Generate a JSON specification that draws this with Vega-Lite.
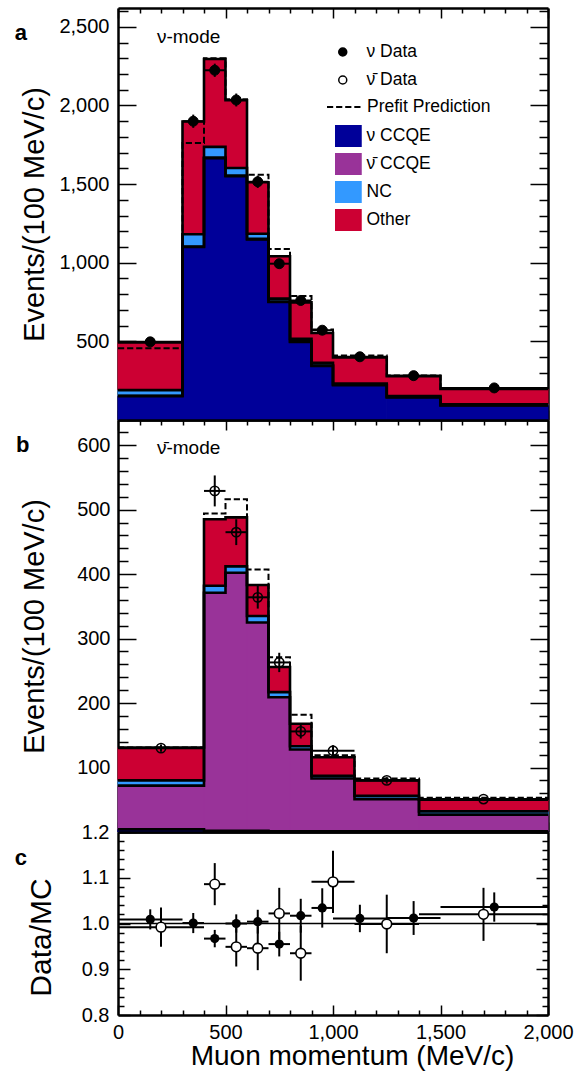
{
  "$schema": "https://vega.github.io/schema/vega-lite/v6.json",
  "padding": {"left": 14, "top": 1, "right": 4, "bottom": 4},
  "spacing": 0,
  "bounds": "flush",
  "config": {
    "font": "Liberation Sans",
    "view": {"stroke": null},
    "axis": {
      "labelFont": "Liberation Sans", "labelFontSize": 20, "labelColor": "black",
      "titleFont": "Liberation Sans", "titleFontWeight": "normal", "titleColor": "black",
      "tickColor": "black", "tickWidth": 1.5, "domainColor": "black", "domainWidth": 2.5,
      "grid": false, "labelFlush": false, "labelOverlap": false, "labelBound": false, "zindex": 1
    },
    "legend": {"labelFont": "Liberation Sans", "labelFontSize": 17.5, "labelColor": "black", "padding": 0, "rowPadding": 0, "clipHeight": 28}
  },
  "resolve": {"scale": {"color": "independent", "fill": "independent", "stroke": "independent", "strokeDash": "independent"}},
  "datasets": {
    "mc": [
      {"mode": "nu", "lo": 0, "hi": 300, "comp": "\u03bd CCQE", "n": 152},
      {"mode": "nu", "lo": 0, "hi": 300, "comp": "\u03bd\u0304 CCQE", "n": 2},
      {"mode": "nu", "lo": 0, "hi": 300, "comp": "NC", "n": 36},
      {"mode": "nu", "lo": 0, "hi": 300, "comp": "Other", "n": 303},
      {"mode": "nu", "lo": 300, "hi": 400, "comp": "\u03bd CCQE", "n": 1100},
      {"mode": "nu", "lo": 300, "hi": 400, "comp": "\u03bd\u0304 CCQE", "n": 3},
      {"mode": "nu", "lo": 300, "hi": 400, "comp": "NC", "n": 78},
      {"mode": "nu", "lo": 300, "hi": 400, "comp": "Other", "n": 717},
      {"mode": "nu", "lo": 400, "hi": 500, "comp": "\u03bd CCQE", "n": 1665},
      {"mode": "nu", "lo": 400, "hi": 500, "comp": "\u03bd\u0304 CCQE", "n": 4},
      {"mode": "nu", "lo": 400, "hi": 500, "comp": "NC", "n": 68},
      {"mode": "nu", "lo": 400, "hi": 500, "comp": "Other", "n": 559},
      {"mode": "nu", "lo": 500, "hi": 600, "comp": "\u03bd CCQE", "n": 1550},
      {"mode": "nu", "lo": 500, "hi": 600, "comp": "\u03bd\u0304 CCQE", "n": 4},
      {"mode": "nu", "lo": 500, "hi": 600, "comp": "NC", "n": 49},
      {"mode": "nu", "lo": 500, "hi": 600, "comp": "Other", "n": 430},
      {"mode": "nu", "lo": 600, "hi": 700, "comp": "\u03bd CCQE", "n": 1148},
      {"mode": "nu", "lo": 600, "hi": 700, "comp": "\u03bd\u0304 CCQE", "n": 4},
      {"mode": "nu", "lo": 600, "hi": 700, "comp": "NC", "n": 32},
      {"mode": "nu", "lo": 600, "hi": 700, "comp": "Other", "n": 328},
      {"mode": "nu", "lo": 700, "hi": 800, "comp": "\u03bd CCQE", "n": 750},
      {"mode": "nu", "lo": 700, "hi": 800, "comp": "\u03bd\u0304 CCQE", "n": 3},
      {"mode": "nu", "lo": 700, "hi": 800, "comp": "NC", "n": 19},
      {"mode": "nu", "lo": 700, "hi": 800, "comp": "Other", "n": 269},
      {"mode": "nu", "lo": 800, "hi": 900, "comp": "\u03bd CCQE", "n": 497},
      {"mode": "nu", "lo": 800, "hi": 900, "comp": "\u03bd\u0304 CCQE", "n": 3},
      {"mode": "nu", "lo": 800, "hi": 900, "comp": "NC", "n": 16},
      {"mode": "nu", "lo": 800, "hi": 900, "comp": "Other", "n": 232},
      {"mode": "nu", "lo": 900, "hi": 1000, "comp": "\u03bd CCQE", "n": 344},
      {"mode": "nu", "lo": 900, "hi": 1000, "comp": "\u03bd\u0304 CCQE", "n": 3},
      {"mode": "nu", "lo": 900, "hi": 1000, "comp": "NC", "n": 16},
      {"mode": "nu", "lo": 900, "hi": 1000, "comp": "Other", "n": 190},
      {"mode": "nu", "lo": 1000, "hi": 1250, "comp": "\u03bd CCQE", "n": 222},
      {"mode": "nu", "lo": 1000, "hi": 1250, "comp": "\u03bd\u0304 CCQE", "n": 2},
      {"mode": "nu", "lo": 1000, "hi": 1250, "comp": "NC", "n": 8},
      {"mode": "nu", "lo": 1000, "hi": 1250, "comp": "Other", "n": 166},
      {"mode": "nu", "lo": 1250, "hi": 1500, "comp": "\u03bd CCQE", "n": 144},
      {"mode": "nu", "lo": 1250, "hi": 1500, "comp": "\u03bd\u0304 CCQE", "n": 2},
      {"mode": "nu", "lo": 1250, "hi": 1500, "comp": "NC", "n": 7},
      {"mode": "nu", "lo": 1250, "hi": 1500, "comp": "Other", "n": 126},
      {"mode": "nu", "lo": 1500, "hi": 2000, "comp": "\u03bd CCQE", "n": 93},
      {"mode": "nu", "lo": 1500, "hi": 2000, "comp": "\u03bd\u0304 CCQE", "n": 1},
      {"mode": "nu", "lo": 1500, "hi": 2000, "comp": "NC", "n": 6},
      {"mode": "nu", "lo": 1500, "hi": 2000, "comp": "Other", "n": 97},
      {"mode": "nubar", "lo": 0, "hi": 400, "comp": "\u03bd CCQE", "n": 4},
      {"mode": "nubar", "lo": 0, "hi": 400, "comp": "\u03bd\u0304 CCQE", "n": 68},
      {"mode": "nubar", "lo": 0, "hi": 400, "comp": "NC", "n": 8},
      {"mode": "nubar", "lo": 0, "hi": 400, "comp": "Other", "n": 51},
      {"mode": "nubar", "lo": 400, "hi": 500, "comp": "\u03bd CCQE", "n": 2},
      {"mode": "nubar", "lo": 400, "hi": 500, "comp": "\u03bd\u0304 CCQE", "n": 369},
      {"mode": "nubar", "lo": 400, "hi": 500, "comp": "NC", "n": 11},
      {"mode": "nubar", "lo": 400, "hi": 500, "comp": "Other", "n": 103},
      {"mode": "nubar", "lo": 500, "hi": 600, "comp": "\u03bd CCQE", "n": 2},
      {"mode": "nubar", "lo": 500, "hi": 600, "comp": "\u03bd\u0304 CCQE", "n": 400},
      {"mode": "nubar", "lo": 500, "hi": 600, "comp": "NC", "n": 10},
      {"mode": "nubar", "lo": 500, "hi": 600, "comp": "Other", "n": 76},
      {"mode": "nubar", "lo": 600, "hi": 700, "comp": "\u03bd CCQE", "n": 2},
      {"mode": "nubar", "lo": 600, "hi": 700, "comp": "\u03bd\u0304 CCQE", "n": 323},
      {"mode": "nubar", "lo": 600, "hi": 700, "comp": "NC", "n": 10},
      {"mode": "nubar", "lo": 600, "hi": 700, "comp": "Other", "n": 48},
      {"mode": "nubar", "lo": 700, "hi": 800, "comp": "\u03bd CCQE", "n": 1},
      {"mode": "nubar", "lo": 700, "hi": 800, "comp": "\u03bd\u0304 CCQE", "n": 208},
      {"mode": "nubar", "lo": 700, "hi": 800, "comp": "NC", "n": 8},
      {"mode": "nubar", "lo": 700, "hi": 800, "comp": "Other", "n": 39},
      {"mode": "nubar", "lo": 800, "hi": 900, "comp": "\u03bd CCQE", "n": 1},
      {"mode": "nubar", "lo": 800, "hi": 900, "comp": "\u03bd\u0304 CCQE", "n": 127},
      {"mode": "nubar", "lo": 800, "hi": 900, "comp": "NC", "n": 5},
      {"mode": "nubar", "lo": 800, "hi": 900, "comp": "Other", "n": 35},
      {"mode": "nubar", "lo": 900, "hi": 1100, "comp": "\u03bd CCQE", "n": 1},
      {"mode": "nubar", "lo": 900, "hi": 1100, "comp": "\u03bd\u0304 CCQE", "n": 82},
      {"mode": "nubar", "lo": 900, "hi": 1100, "comp": "NC", "n": 4},
      {"mode": "nubar", "lo": 900, "hi": 1100, "comp": "Other", "n": 29},
      {"mode": "nubar", "lo": 1100, "hi": 1400, "comp": "\u03bd CCQE", "n": 1},
      {"mode": "nubar", "lo": 1100, "hi": 1400, "comp": "\u03bd\u0304 CCQE", "n": 50},
      {"mode": "nubar", "lo": 1100, "hi": 1400, "comp": "NC", "n": 5},
      {"mode": "nubar", "lo": 1100, "hi": 1400, "comp": "Other", "n": 24},
      {"mode": "nubar", "lo": 1400, "hi": 2000, "comp": "\u03bd CCQE", "n": 1},
      {"mode": "nubar", "lo": 1400, "hi": 2000, "comp": "\u03bd\u0304 CCQE", "n": 26},
      {"mode": "nubar", "lo": 1400, "hi": 2000, "comp": "NC", "n": 5},
      {"mode": "nubar", "lo": 1400, "hi": 2000, "comp": "Other", "n": 18}
    ],
    "meas": [
      {"mode": "nu", "lo": 0, "hi": 300, "p": 150, "data": 497, "err": 11, "prefit": 457, "ratio": 1.009, "rerr": 0.022},
      {"mode": "nu", "lo": 300, "hi": 400, "p": 350, "data": 1900, "err": 42, "prefit": 1762, "ratio": 1.001, "rerr": 0.022},
      {"mode": "nu", "lo": 400, "hi": 500, "p": 450, "data": 2224, "err": 42, "prefit": 2300, "ratio": 0.967, "rerr": 0.019},
      {"mode": "nu", "lo": 500, "hi": 600, "p": 550, "data": 2035, "err": 41, "prefit": 2040, "ratio": 1.0, "rerr": 0.02},
      {"mode": "nu", "lo": 600, "hi": 700, "p": 650, "data": 1515, "err": 39, "prefit": 1559, "ratio": 1.004, "rerr": 0.026},
      {"mode": "nu", "lo": 700, "hi": 800, "p": 750, "data": 994, "err": 27, "prefit": 1088, "ratio": 0.955, "rerr": 0.027},
      {"mode": "nu", "lo": 800, "hi": 900, "p": 850, "data": 760, "err": 28, "prefit": 788, "ratio": 1.017, "rerr": 0.037},
      {"mode": "nu", "lo": 900, "hi": 1000, "p": 950, "data": 571, "err": 25, "prefit": 575, "ratio": 1.034, "rerr": 0.043},
      {"mode": "nu", "lo": 1000, "hi": 1250, "p": 1125, "data": 402, "err": 12, "prefit": 410, "ratio": 1.011, "rerr": 0.03},
      {"mode": "nu", "lo": 1250, "hi": 1500, "p": 1375, "data": 282, "err": 10, "prefit": 283, "ratio": 1.012, "rerr": 0.037},
      {"mode": "nu", "lo": 1500, "hi": 2000, "p": 1750, "data": 204, "err": 7, "prefit": 201, "ratio": 1.036, "rerr": 0.032},
      {"mode": "nubar", "lo": 0, "hi": 400, "p": 200, "data": 130, "err": 5.6, "prefit": 131, "ratio": 0.992, "rerr": 0.043},
      {"mode": "nubar", "lo": 400, "hi": 500, "p": 450, "data": 529, "err": 24, "prefit": 494, "ratio": 1.086, "rerr": 0.046},
      {"mode": "nubar", "lo": 500, "hi": 600, "p": 550, "data": 465, "err": 20, "prefit": 516, "ratio": 0.949, "rerr": 0.043},
      {"mode": "nubar", "lo": 600, "hi": 700, "p": 650, "data": 364, "err": 17.5, "prefit": 407, "ratio": 0.946, "rerr": 0.048},
      {"mode": "nubar", "lo": 700, "hi": 800, "p": 750, "data": 263, "err": 15, "prefit": 271, "ratio": 1.022, "rerr": 0.056},
      {"mode": "nubar", "lo": 800, "hi": 900, "p": 850, "data": 156, "err": 11, "prefit": 182, "ratio": 0.935, "rerr": 0.06},
      {"mode": "nubar", "lo": 900, "hi": 1100, "p": 1000, "data": 126, "err": 8.5, "prefit": 119, "ratio": 1.091, "rerr": 0.068},
      {"mode": "nubar", "lo": 1100, "hi": 1400, "p": 1250, "data": 80, "err": 5, "prefit": 83, "ratio": 0.999, "rerr": 0.064},
      {"mode": "nubar", "lo": 1400, "hi": 2000, "p": 1700, "data": 51, "err": 3, "prefit": 53, "ratio": 1.02, "rerr": 0.058}
    ]
  },
  "vconcat": [
    {
      "width": 430,
      "height": 412,
      "resolve": {"axis": {"x": "independent", "y": "independent"}},
      "layer": [
        {
          "data": {"name": "mc"},
          "transform": [
            {"filter": "datum.mode === 'nu'"},
            {"calculate": "indexof(['\u03bd CCQE', '\u03bd\u0304 CCQE', 'NC', 'Other'], datum.comp)", "as": "k"},
            {"stack": "n", "groupby": ["lo"], "sort": [{"field": "k", "order": "ascending"}], "as": ["n0", "n1"]}
          ],
          "mark": {"type": "rect", "strokeWidth": 1},
          "encoding": {
            "x": {"field": "lo", "type": "quantitative", "scale": {"domain": [0, 2000], "nice": false, "zero": false},
              "axis": {"orient": "bottom", "values": [0,100,200,300,400,500,600,700,800,900,1000,1100,1200,1300,1400,1500,1600,1700,1800,1900,2000], "labels": false, "title": null,
                "tickSize": {"condition": {"test": "datum.value % 500 === 0", "value": -10}, "value": -5}}},
            "x2": {"field": "hi"},
            "y": {"field": "n0", "type": "quantitative", "scale": {"domain": [0, 2620], "nice": false},
              "axis": {"orient": "left", "values": [0,100,200,300,400,500,600,700,800,900,1000,1100,1200,1300,1400,1500,1600,1700,1800,1900,2000,2100,2200,2300,2400,2500,2600],
                "labelExpr": "datum.value % 500 === 0 && datum.value > 0 ? format(datum.value, ',') : ''",
                "labelPadding": 27,
                "tickSize": {"condition": {"test": "datum.value % 500 === 0", "value": -18}, "value": -10},
                "title": "Events/(100 MeV/c)", "titleFontSize": 29, "titleX": -75, "titleBaseline": "alphabetic"}},
            "y2": {"field": "n1"},
            "color": {"field": "comp", "type": "nominal",
              "scale": {"domain": ["\u03bd CCQE", "\u03bd\u0304 CCQE", "NC", "Other"], "range": ["#000099", "#993399", "#3399ff", "#cc0033"]},
              "legend": {"title": null, "orient": "none", "legendX": 217, "legendY": 114,
                "symbolType": "M-3.4,-2H3.4V2H-3.4Z", "symbolSize": 100, "symbolStrokeColor": "black", "symbolStrokeWidth": 2, "symbolOpacity": 1,
                "labelOffset": 14,
                "encode": {"symbols": {"update": {"stroke": {"value": "black"}, "strokeWidth": {"value": 2}}}}}},
            "stroke": {"field": "comp", "type": "nominal",
              "scale": {"domain": ["\u03bd CCQE", "\u03bd\u0304 CCQE", "NC", "Other"], "range": ["#000099", "#993399", "#3399ff", "#cc0033"]},
              "legend": null}
          }
        },
        {
          "data": {"name": "mc"},
          "transform": [
            {"filter": "datum.mode === 'nu'"},
            {"calculate": "indexof(['\u03bd CCQE', '\u03bd\u0304 CCQE', 'NC', 'Other'], datum.comp)", "as": "k"},
            {"stack": "n", "groupby": ["lo"], "sort": [{"field": "k", "order": "ascending"}], "as": ["n0", "n1"]},
            {"fold": ["lo", "hi"], "as": ["side", "edge"]}
          ],
          "mark": {"type": "line", "color": "black", "strokeWidth": 2.6},
          "encoding": {
            "x": {"field": "edge", "type": "quantitative",
              "axis": {"orient": "top", "values": [0,100,200,300,400,500,600,700,800,900,1000,1100,1200,1300,1400,1500,1600,1700,1800,1900,2000], "labels": false, "title": null,
                "tickSize": {"condition": {"test": "datum.value % 500 === 0", "value": -10}, "value": -5}}},
            "y": {"field": "n1", "type": "quantitative",
              "axis": {"orient": "right", "values": [0,100,200,300,400,500,600,700,800,900,1000,1100,1200,1300,1400,1500,1600,1700,1800,1900,2000,2100,2200,2300,2400,2500,2600], "labels": false, "title": null,
                "tickSize": {"condition": {"test": "datum.value % 500 === 0", "value": -18}, "value": -9}}},
            "detail": {"field": "comp"},
            "order": [{"field": "edge", "type": "quantitative"}, {"field": "side", "type": "nominal"}]
          }
        },
        {
          "data": {"name": "meas"},
          "transform": [{"filter": "datum.mode === 'nu'"}, {"fold": ["lo", "hi"], "as": ["side", "edge"]}],
          "mark": {"type": "line", "color": "black", "strokeWidth": 2},
          "encoding": {
            "x": {"field": "edge", "type": "quantitative", "axis": null},
            "y": {"field": "prefit", "type": "quantitative", "axis": null},
            "order": [{"field": "edge", "type": "quantitative"}, {"field": "side", "type": "nominal"}],
            "strokeDash": {"datum": "Prefit Prediction",
              "scale": {"domain": ["Prefit Prediction"], "range": [[6.2, 2.9]]},
              "legend": {"title": null, "orient": "none", "legendX": 208, "legendY": 85,
                "symbolType": "stroke", "symbolSize": 1156, "symbolStrokeColor": "black", "symbolStrokeWidth": 2,
                "labelOffset": 5}}
          }
        },
        {
          "data": {"name": "meas"},
          "transform": [{"filter": "datum.mode === 'nu'"}],
          "mark": {"type": "rule", "color": "black", "strokeWidth": 2},
          "encoding": {
            "x": {"field": "lo", "type": "quantitative", "axis": null},
            "x2": {"field": "hi"},
            "y": {"field": "data", "type": "quantitative", "axis": null}
          }
        },
        {
          "data": {"name": "meas"},
          "transform": [{"filter": "datum.mode === 'nu'"}],
          "mark": {"type": "errorbar", "ticks": false, "thickness": 2, "color": "black"},
          "encoding": {
            "x": {"field": "p", "type": "quantitative", "axis": null},
            "y": {"field": "data", "type": "quantitative", "axis": null},
            "yError": {"field": "err"}
          }
        },
        {
          "data": {"name": "meas"},
          "transform": [{"filter": "datum.mode === 'nu'"}],
          "mark": {"type": "point", "shape": "circle", "filled": true, "opacity": 1, "size": 100, "stroke": "black", "strokeWidth": 1},
          "encoding": {
            "x": {"field": "p", "type": "quantitative", "axis": null},
            "y": {"field": "data", "type": "quantitative", "axis": null},
            "fill": {"datum": "\u03bd Data",
              "scale": {"domain": ["\u03bd Data", "\u03bd\u0304 Data"], "range": ["black", "white"]},
              "legend": {"title": null, "orient": "none", "legendX": 216, "legendY": 30,
                "symbolType": "circle", "symbolSize": 64, "symbolStrokeColor": "black", "symbolStrokeWidth": 1.5, "symbolOpacity": 1,
                "labelOffset": 15,
                "encode": {"symbols": {"update": {"stroke": {"value": "black"}, "strokeWidth": {"value": 1.5}}}}}}
          }
        },
        {
          "data": {"values": [{}]},
          "mark": {"type": "text", "align": "left", "baseline": "alphabetic", "fontSize": 19, "font": "Liberation Sans", "color": "black"},
          "encoding": {
            "x": {"datum": 181, "type": "quantitative", "axis": null},
            "y": {"datum": 2395, "type": "quantitative", "axis": null},
            "text": {"value": "\u03bd-mode"}
          }
        },
        {
          "data": {"values": [{}]},
          "mark": {"type": "text", "align": "left", "baseline": "alphabetic", "fontSize": 22, "fontWeight": "bold", "font": "Liberation Sans", "color": "black", "clip": false},
          "encoding": {
            "x": {"datum": -480, "type": "quantitative", "axis": null},
            "y": {"datum": 2416, "type": "quantitative", "axis": null},
            "text": {"value": "a"}
          }
        }
      ]
    },
    {
      "width": 430,
      "height": 412,
      "resolve": {"axis": {"x": "independent", "y": "independent"}},
      "layer": [
        {
          "data": {"name": "mc"},
          "transform": [
            {"filter": "datum.mode === 'nubar'"},
            {"calculate": "indexof(['\u03bd CCQE', '\u03bd\u0304 CCQE', 'NC', 'Other'], datum.comp)", "as": "k"},
            {"stack": "n", "groupby": ["lo"], "sort": [{"field": "k", "order": "ascending"}], "as": ["n0", "n1"]}
          ],
          "mark": {"type": "rect", "strokeWidth": 1},
          "encoding": {
            "x": {"field": "lo", "type": "quantitative", "scale": {"domain": [0, 2000], "nice": false, "zero": false},
              "axis": {"orient": "bottom", "values": [0,100,200,300,400,500,600,700,800,900,1000,1100,1200,1300,1400,1500,1600,1700,1800,1900,2000], "labels": false, "title": null,
                "tickSize": {"condition": {"test": "datum.value % 500 === 0", "value": -10}, "value": -5}}},
            "x2": {"field": "hi"},
            "y": {"field": "n0", "type": "quantitative", "scale": {"domain": [0, 639], "nice": false},
              "axis": {"orient": "left", "values": [0,20,40,60,80,100,120,140,160,180,200,220,240,260,280,300,320,340,360,380,400,420,440,460,480,500,520,540,560,580,600,620],
                "labelExpr": "datum.value % 100 === 0 && datum.value > 0 ? format(datum.value, ',') : ''",
                "labelPadding": 26,
                "tickSize": {"condition": {"test": "datum.value % 100 === 0", "value": -18}, "value": -10},
                "title": "Events/(100 MeV/c)", "titleFontSize": 29, "titleX": -75, "titleBaseline": "alphabetic"}},
            "y2": {"field": "n1"},
            "color": {"field": "comp", "type": "nominal",
              "scale": {"domain": ["\u03bd CCQE", "\u03bd\u0304 CCQE", "NC", "Other"], "range": ["#000099", "#993399", "#3399ff", "#cc0033"]},
              "legend": null},
            "stroke": {"field": "comp", "type": "nominal",
              "scale": {"domain": ["\u03bd CCQE", "\u03bd\u0304 CCQE", "NC", "Other"], "range": ["#000099", "#993399", "#3399ff", "#cc0033"]},
              "legend": null}
          }
        },
        {
          "data": {"name": "mc"},
          "transform": [
            {"filter": "datum.mode === 'nubar'"},
            {"calculate": "indexof(['\u03bd CCQE', '\u03bd\u0304 CCQE', 'NC', 'Other'], datum.comp)", "as": "k"},
            {"stack": "n", "groupby": ["lo"], "sort": [{"field": "k", "order": "ascending"}], "as": ["n0", "n1"]},
            {"fold": ["lo", "hi"], "as": ["side", "edge"]}
          ],
          "mark": {"type": "line", "color": "black", "strokeWidth": 2.6},
          "encoding": {
            "x": {"field": "edge", "type": "quantitative",
              "axis": {"orient": "top", "values": [0,100,200,300,400,500,600,700,800,900,1000,1100,1200,1300,1400,1500,1600,1700,1800,1900,2000], "labels": false, "title": null,
                "tickSize": {"condition": {"test": "datum.value % 500 === 0", "value": -10}, "value": -5}}},
            "y": {"field": "n1", "type": "quantitative",
              "axis": {"orient": "right", "values": [0,20,40,60,80,100,120,140,160,180,200,220,240,260,280,300,320,340,360,380,400,420,440,460,480,500,520,540,560,580,600,620], "labels": false, "title": null,
                "tickSize": {"condition": {"test": "datum.value % 100 === 0", "value": -18}, "value": -9}}},
            "detail": {"field": "comp"},
            "order": [{"field": "edge", "type": "quantitative"}, {"field": "side", "type": "nominal"}]
          }
        },
        {
          "data": {"name": "meas"},
          "transform": [{"filter": "datum.mode === 'nubar'"}, {"fold": ["lo", "hi"], "as": ["side", "edge"]}],
          "mark": {"type": "line", "color": "black", "strokeWidth": 2, "strokeDash": [6.2, 2.9]},
          "encoding": {
            "x": {"field": "edge", "type": "quantitative", "axis": null},
            "y": {"field": "prefit", "type": "quantitative", "axis": null},
            "order": [{"field": "edge", "type": "quantitative"}, {"field": "side", "type": "nominal"}]
          }
        },
        {
          "data": {"name": "meas"},
          "transform": [{"filter": "datum.mode === 'nubar'"}],
          "mark": {"type": "rule", "color": "black", "strokeWidth": 2},
          "encoding": {
            "x": {"field": "lo", "type": "quantitative", "axis": null},
            "x2": {"field": "hi"},
            "y": {"field": "data", "type": "quantitative", "axis": null}
          }
        },
        {
          "data": {"name": "meas"},
          "transform": [{"filter": "datum.mode === 'nubar'"}],
          "mark": {"type": "errorbar", "ticks": false, "thickness": 2, "color": "black"},
          "encoding": {
            "x": {"field": "p", "type": "quantitative", "axis": null},
            "y": {"field": "data", "type": "quantitative", "axis": null},
            "yError": {"field": "err"}
          }
        },
        {
          "data": {"name": "meas"},
          "transform": [{"filter": "datum.mode === 'nubar'"}],
          "mark": {"type": "point", "shape": "circle", "filled": false, "opacity": 1, "size": 85, "color": "black", "strokeWidth": 1.6},
          "encoding": {
            "x": {"field": "p", "type": "quantitative", "axis": null},
            "y": {"field": "data", "type": "quantitative", "axis": null}
          }
        },
        {
          "data": {"values": [{}]},
          "mark": {"type": "text", "align": "left", "baseline": "alphabetic", "fontSize": 19, "font": "Liberation Sans", "color": "black"},
          "encoding": {
            "x": {"datum": 181, "type": "quantitative", "axis": null},
            "y": {"datum": 587, "type": "quantitative", "axis": null},
            "text": {"value": "\u03bd\u0304-mode"}
          }
        },
        {
          "data": {"values": [{}]},
          "mark": {"type": "text", "align": "left", "baseline": "alphabetic", "fontSize": 22, "fontWeight": "bold", "font": "Liberation Sans", "color": "black", "clip": false},
          "encoding": {
            "x": {"datum": -475, "type": "quantitative", "axis": null},
            "y": {"datum": 589, "type": "quantitative", "axis": null},
            "text": {"value": "b"}
          }
        }
      ]
    },
    {
      "width": 430,
      "height": 183,
      "resolve": {"axis": {"x": "independent", "y": "independent"}},
      "layer": [
        {
          "data": {"values": [{}]},
          "mark": {"type": "rule", "color": "black", "strokeWidth": 1.5},
          "encoding": {"y": {"datum": 1, "type": "quantitative", "axis": null}}
        },
        {
          "data": {"name": "meas"},
          "transform": [{"filter": "datum.mode === 'nu'"}],
          "mark": {"type": "rule", "color": "black", "strokeWidth": 2},
          "encoding": {
            "x": {"field": "lo", "type": "quantitative", "scale": {"domain": [0, 2000], "nice": false, "zero": false},
              "axis": {"orient": "bottom", "values": [0,100,200,300,400,500,600,700,800,900,1000,1100,1200,1300,1400,1500,1600,1700,1800,1900,2000],
                "labelExpr": "datum.value % 500 === 0 ? format(datum.value, ',') : ''",
                "labelPadding": 17,
                "tickSize": {"condition": {"test": "datum.value % 500 === 0", "value": -10}, "value": -5},
                "title": "Muon momentum (MeV/c)", "titleFontSize": 28, "titleX": 234, "titleY": 49, "titleBaseline": "alphabetic"}},
            "x2": {"field": "hi"},
            "y": {"field": "ratio", "type": "quantitative", "scale": {"domain": [0.8, 1.2], "nice": false, "zero": false},
              "axis": {"orient": "left", "values": [0.8,0.82,0.84,0.86,0.88,0.9,0.92,0.94,0.96,0.98,1,1.02,1.04,1.06,1.08,1.1,1.12,1.14,1.16,1.18,1.2],
                "labelExpr": "abs(datum.value * 10 - round(datum.value * 10)) < 0.001 ? format(datum.value, '.1f') : ''",
                "labelPadding": 21,
                "tickSize": {"condition": {"test": "abs(datum.value * 10 - round(datum.value * 10)) < 0.001", "value": -12}, "value": -6},
                "title": "Data/MC", "titleFontSize": 30, "titleX": -68, "titleY": 105, "titleBaseline": "alphabetic"}}
          }
        },
        {
          "data": {"name": "meas"},
          "transform": [{"filter": "datum.mode === 'nubar'"}],
          "mark": {"type": "rule", "color": "black", "strokeWidth": 2},
          "encoding": {
            "x": {"field": "lo", "type": "quantitative",
              "axis": {"orient": "top", "ticks": false, "labels": false, "title": null}},
            "x2": {"field": "hi"},
            "y": {"field": "ratio", "type": "quantitative",
              "axis": {"orient": "right", "values": [0.8,0.82,0.84,0.86,0.88,0.9,0.92,0.94,0.96,0.98,1,1.02,1.04,1.06,1.08,1.1,1.12,1.14,1.16,1.18,1.2], "labels": false, "title": null,
                "tickSize": {"condition": {"test": "abs(datum.value * 10 - round(datum.value * 10)) < 0.001", "value": -12}, "value": -6}}}
          }
        },
        {
          "data": {"name": "meas"},
          "mark": {"type": "errorbar", "ticks": false, "thickness": 2, "color": "black"},
          "encoding": {
            "x": {"field": "p", "type": "quantitative", "axis": null},
            "y": {"field": "ratio", "type": "quantitative", "axis": null},
            "yError": {"field": "rerr"},
            "detail": {"field": "mode"}
          }
        },
        {
          "data": {"name": "meas"},
          "transform": [{"filter": "datum.mode === 'nu'"}],
          "mark": {"type": "point", "shape": "circle", "filled": true, "opacity": 1, "size": 85, "color": "black"},
          "encoding": {
            "x": {"field": "p", "type": "quantitative", "axis": null},
            "y": {"field": "ratio", "type": "quantitative", "axis": null}
          }
        },
        {
          "data": {"name": "meas"},
          "transform": [{"filter": "datum.mode === 'nubar'"}],
          "mark": {"type": "point", "shape": "circle", "filled": true, "opacity": 1, "size": 95, "fill": "white", "stroke": "black", "strokeWidth": 1.6},
          "encoding": {
            "x": {"field": "p", "type": "quantitative", "axis": null},
            "y": {"field": "ratio", "type": "quantitative", "axis": null}
          }
        },
        {
          "data": {"values": [{}]},
          "mark": {"type": "text", "align": "left", "baseline": "alphabetic", "fontSize": 22, "fontWeight": "bold", "font": "Liberation Sans", "color": "black", "clip": false},
          "encoding": {
            "x": {"datum": -480, "type": "quantitative", "axis": null},
            "y": {"datum": 1.128, "type": "quantitative", "axis": null},
            "text": {"value": "c"}
          }
        }
      ]
    }
  ]
}
